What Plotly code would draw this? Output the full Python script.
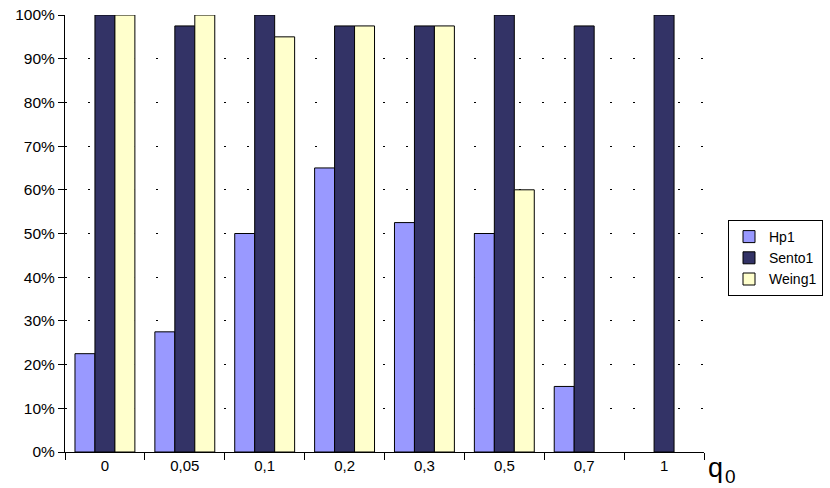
import plotly.graph_objects as go

categories = ["0", "0,05", "0,1", "0,2", "0,3", "0,5", "0,7", "1"]
hp1 = [0.225, 0.275, 0.50, 0.65, 0.525, 0.50, 0.15, None]
sento1 = [1.0, 0.975, 1.0, 0.975, 0.975, 1.0, 0.975, 1.0]
weing1 = [1.0, 1.0, 0.95, 0.975, 0.975, 0.60, None, None]
series_names = ["Hp1", "Sento1", "Weing1"]
colors = ["#9999FF", "#333366", "#FFFFCC"]
y_ticks = [i / 10 for i in range(11)]
y_labels = [f"{i * 10}%" for i in range(11)]

FONT = "Liberation Sans, Arial, sans-serif"

fig = go.Figure()
for name, vals, col in zip(series_names, [hp1, sento1, weing1], colors):
    fig.add_trace(go.Bar(
        x=categories, y=vals, name=name,
        marker=dict(color=col, line=dict(color="black", width=1)),
    ))

fig.update_layout(
    width=830, height=488,
    margin=dict(l=65, r=126, t=15, b=36, autoexpand=False),
    paper_bgcolor="white", plot_bgcolor="white",
    barmode="group", bargap=0.25, bargroupgap=0,
    font=dict(family=FONT, color="black", size=15),
    showlegend=True,
    legend=dict(
        xref="container", yref="container",
        x=728 / 830, y=1 - 220 / 488, xanchor="left", yanchor="top",
        bordercolor="black", borderwidth=1, bgcolor="white",
        font=dict(family=FONT, size=14, color="black"),
        itemwidth=30, tracegroupgap=0,
    ),
    xaxis=dict(
        type="category", showline=True, linecolor="black", linewidth=1,
        ticks="outside", tickson="boundaries", ticklen=7, tickcolor="black",
        showgrid=False, tickfont=dict(size=15), automargin=False,
    ),
    yaxis=dict(
        range=[0, 1], tickvals=y_ticks, ticktext=y_labels,
        showline=True, linecolor="black", linewidth=1,
        ticks="outside", ticklen=6, tickcolor="black",
        showgrid=True, gridcolor="black", gridwidth=1, griddash="2px,20.7px",
        zeroline=False, tickfont=dict(size=15.5), automargin=False,
    ),
)

def px_x(px):
    return (px - 65) / 639

def px_y(py):
    return (452 - py) / 437

fig.add_annotation(
    xref="paper", yref="paper", x=px_x(706), y=px_y(468),
    xanchor="left", yanchor="middle", text="q", showarrow=False,
    font=dict(family=FONT, size=27, color="black"),
)
fig.add_annotation(
    xref="paper", yref="paper", x=px_x(723), y=px_y(476),
    xanchor="left", yanchor="middle", text="0", showarrow=False,
    font=dict(family=FONT, size=19, color="black"),
)

fig.write_html("out.html")
